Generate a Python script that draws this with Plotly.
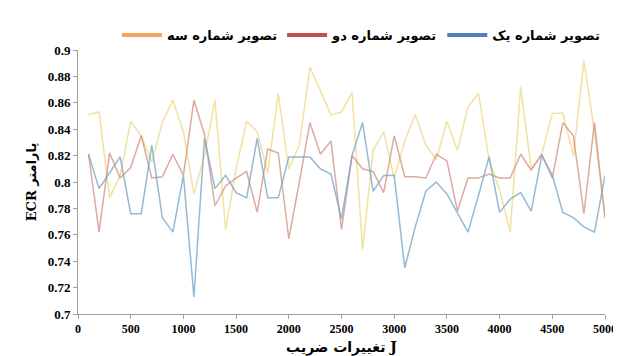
import plotly.graph_objects as go

x_values = list(range(100, 5001, 100))

blue_one = [0.821, 0.795, 0.807, 0.819, 0.776, 0.776, 0.828, 0.773, 0.762, 0.805,
            0.713, 0.833, 0.795, 0.805, 0.792, 0.788, 0.833, 0.788, 0.788, 0.819,
            0.819, 0.819, 0.810, 0.806, 0.772, 0.820, 0.845, 0.793, 0.805, 0.805,
            0.735, 0.766, 0.793, 0.800, 0.791, 0.776, 0.762, 0.790, 0.819, 0.777,
            0.787, 0.792, 0.778, 0.820, 0.805, 0.777, 0.773, 0.766, 0.762, 0.805]

red_two = [0.821, 0.762, 0.822, 0.803, 0.811, 0.835, 0.803, 0.804, 0.821, 0.805,
           0.862, 0.836, 0.782, 0.797, 0.803, 0.808, 0.777, 0.825, 0.822, 0.757,
           0.800, 0.845, 0.821, 0.831, 0.764, 0.820, 0.810, 0.808, 0.792, 0.835,
           0.804, 0.804, 0.803, 0.821, 0.816, 0.778, 0.803, 0.803, 0.806, 0.803,
           0.803, 0.821, 0.809, 0.821, 0.803, 0.845, 0.835, 0.776, 0.845, 0.773]

yellow_three = [0.851, 0.853, 0.788, 0.805, 0.846, 0.835, 0.815, 0.845, 0.862, 0.838,
                0.791, 0.820, 0.862, 0.764, 0.810, 0.846, 0.838, 0.807, 0.867, 0.810,
                0.828, 0.887, 0.869, 0.851, 0.853, 0.868, 0.749, 0.824, 0.838, 0.803,
                0.831, 0.851, 0.828, 0.817, 0.846, 0.824, 0.857, 0.867, 0.817, 0.794,
                0.762, 0.872, 0.810, 0.821, 0.852, 0.852, 0.820, 0.892, 0.838, 0.773]

names = ["تصویر شماره سه", "تصویر شماره دو", "تصویر شماره یک"]
y_ticks = [0.7, 0.72, 0.74, 0.76, 0.78, 0.8, 0.82, 0.84, 0.86, 0.88, 0.9]
y_tick_labels = ["0.7", "0.72", "0.74", "0.76", "0.78", "0.8", "0.82", "0.84", "0.86", "0.88", "0.9"]
x_ticks = [0, 500, 1000, 1500, 2000, 2500, 3000, 3500, 4000, 4500, 5000]

series = [yellow_three, red_two, blue_one]
line_colors = ["rgba(236,212,120,0.7)", "rgba(205,130,115,0.68)", "rgba(120,165,200,0.78)"]
legend_colors = ["#f2a55a", "#c0504d", "#4f81bd"]

fig = go.Figure()
for vals, col in zip(series, line_colors):
    fig.add_trace(go.Scatter(x=x_values, y=vals, mode="lines",
                             line=dict(color=col, width=1.5), showlegend=False))
for name, col in zip(names, legend_colors):
    fig.add_trace(go.Scatter(x=[None], y=[None], mode="lines", name=name,
                             line=dict(color=col, width=4)))

font_serif = "Liberation Serif, DejaVu Serif, serif"
fig.update_layout(
    width=621, height=356,
    margin=dict(l=70, r=21, t=22, b=49),
    plot_bgcolor="white", paper_bgcolor="white",
    font=dict(family=font_serif, size=12, color="black"),
    legend=dict(orientation="h", x=1.0, xanchor="right", y=1.0, yanchor="bottom",
                font=dict(family="DejaVu Sans, sans-serif", size=13, color="black", weight="bold"),
                bgcolor="rgba(0,0,0,0)", itemwidth=40, tracegroupgap=0),
    xaxis=dict(range=[0, 5000], tickvals=x_ticks, showgrid=False, zeroline=False,
               showline=True, linecolor="#a0a0a0", linewidth=1,
               ticks="outside", ticklen=4, tickcolor="#a0a0a0",
               tickfont=dict(family=font_serif, size=12, weight="bold"),
               title=dict(text="تغییرات ضریب J", standoff=6,
                          font=dict(family="DejaVu Serif, DejaVu Sans, serif", size=14, weight="bold"))),
    yaxis=dict(range=[0.7, 0.9], tickvals=y_ticks, ticktext=y_tick_labels, showgrid=False,
               zeroline=False, showline=True, linecolor="#a0a0a0", linewidth=1,
               ticks="outside", ticklen=4, tickcolor="#a0a0a0",
               tickfont=dict(family=font_serif, size=13, weight="bold"),
               title=dict(text="ECR پارامتر", standoff=8,
                          font=dict(family="DejaVu Serif, DejaVu Sans, serif", size=13, weight="bold"))),
)

fig.write_html("out.html")
